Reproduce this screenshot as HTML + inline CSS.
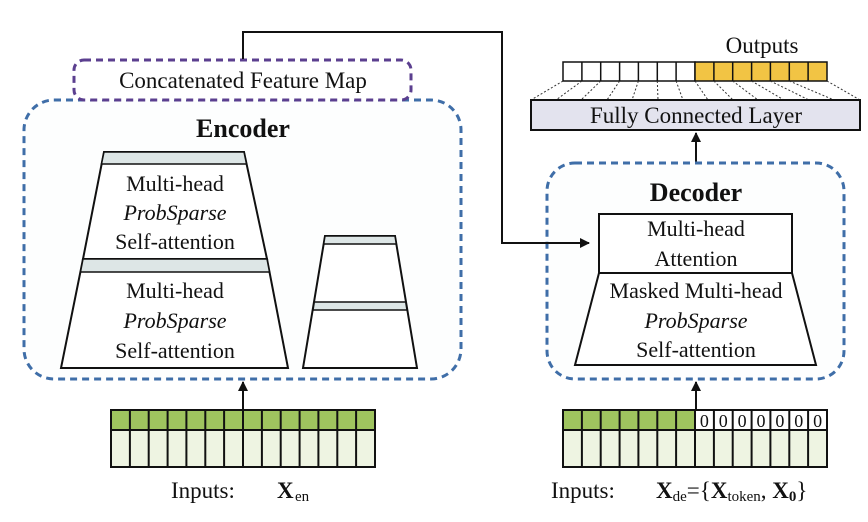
<!DOCTYPE html>
<html><head><meta charset="utf-8"><style>
html,body{margin:0;padding:0;background:#fff}
svg{display:block}
text,tspan{font-family:"Liberation Serif","Times New Roman","Noto Serif CJK SC","DejaVu Serif",serif;fill:#111}
</style></head><body>
<svg width="868" height="522" viewBox="0 0 868 522" xmlns="http://www.w3.org/2000/svg">
<defs>
<marker id="ah" markerWidth="10" markerHeight="10" refX="9" refY="5" orient="auto" markerUnits="userSpaceOnUse"><path d="M0,0 L10,5 L0,10 z" fill="#111"/></marker>
</defs>
<rect x="24" y="100" width="437" height="279" rx="30" fill="#fdfefe" stroke="#3f6ea8" stroke-width="3" stroke-dasharray="7,5"/>
<rect x="74" y="60" width="337" height="40" rx="10" fill="#fff" stroke="#5b3f8f" stroke-width="3" stroke-dasharray="7,5"/>
<text x="243" y="88" font-size="23" text-anchor="middle">Concatenated Feature Map</text>
<text x="243" y="137" font-size="26" font-weight="bold" text-anchor="middle">Encoder</text>
<polygon points="104,152 244,152 267,259 83,259" fill="#fff" stroke="#111" stroke-width="2"/>
<polygon points="104,152 244,152 246.5,164 101.5,164" fill="#dde6e6" stroke="#111" stroke-width="1.5"/>
<text x="175" y="191" font-size="22" text-anchor="middle">Multi-head</text>
<text x="175" y="220" font-size="22" font-style="italic" text-anchor="middle">ProbSparse</text>
<text x="175" y="249" font-size="22" text-anchor="middle">Self-attention</text>
<polygon points="83,259 267,259 288,368 61,368" fill="#fff" stroke="#111" stroke-width="2"/>
<polygon points="83,259 267,259 269.5,272 80.5,272" fill="#dde6e6" stroke="#111" stroke-width="1.5"/>
<text x="175" y="298" font-size="22" text-anchor="middle">Multi-head</text>
<text x="175" y="328" font-size="22" font-style="italic" text-anchor="middle">ProbSparse</text>
<text x="175" y="358" font-size="22" text-anchor="middle">Self-attention</text>
<polygon points="325,236 395,236 417,368 303,368" fill="#fff" stroke="#111" stroke-width="2"/>
<polygon points="325,236 395,236 396.3,244 323.7,244" fill="#dde6e6" stroke="#111" stroke-width="1.5"/>
<polygon points="314.3,302 405.7,302 407,310 313,310" fill="#dde6e6" stroke="#111" stroke-width="1.5"/>
<line x1="243" y1="410" x2="243" y2="382" stroke="#111" stroke-width="2" marker-end="url(#ah)"/>
<g stroke="#111" stroke-width="2">
<rect x="111" y="410" width="264" height="20" fill="#9fc45f"/>
<rect x="111" y="430" width="264" height="37" fill="#eef4e2"/>
<line x1="129.9" y1="410" x2="129.9" y2="467"/><line x1="148.7" y1="410" x2="148.7" y2="467"/><line x1="167.6" y1="410" x2="167.6" y2="467"/><line x1="186.4" y1="410" x2="186.4" y2="467"/><line x1="205.3" y1="410" x2="205.3" y2="467"/><line x1="224.1" y1="410" x2="224.1" y2="467"/><line x1="243" y1="410" x2="243" y2="467"/><line x1="261.9" y1="410" x2="261.9" y2="467"/><line x1="280.7" y1="410" x2="280.7" y2="467"/><line x1="299.6" y1="410" x2="299.6" y2="467"/><line x1="318.4" y1="410" x2="318.4" y2="467"/><line x1="337.3" y1="410" x2="337.3" y2="467"/><line x1="356.1" y1="410" x2="356.1" y2="467"/>
</g>
<text x="171" y="498" font-size="23">Inputs:</text>
<text x="277" y="498" font-size="23" font-weight="bold">X</text><text x="295" y="501" font-size="15">en</text>

<text x="762" y="53" font-size="23" text-anchor="middle">Outputs</text>
<g stroke="#111" stroke-width="1.5">
<rect x="563" y="62" width="132" height="19" fill="#fff"/>
<rect x="695" y="62" width="132" height="19" fill="#f2c444"/>
<line x1="581.9" y1="62" x2="581.9" y2="81"/><line x1="600.7" y1="62" x2="600.7" y2="81"/><line x1="619.6" y1="62" x2="619.6" y2="81"/><line x1="638.4" y1="62" x2="638.4" y2="81"/><line x1="657.3" y1="62" x2="657.3" y2="81"/><line x1="676.1" y1="62" x2="676.1" y2="81"/><line x1="713.9" y1="62" x2="713.9" y2="81"/><line x1="732.7" y1="62" x2="732.7" y2="81"/><line x1="751.6" y1="62" x2="751.6" y2="81"/><line x1="770.4" y1="62" x2="770.4" y2="81"/><line x1="789.3" y1="62" x2="789.3" y2="81"/><line x1="808.1" y1="62" x2="808.1" y2="81"/>
</g>
<g stroke="#333" stroke-width="1" stroke-dasharray="2,2">
<line x1="563" y1="81" x2="531" y2="100"/><line x1="581.9" y1="81" x2="556" y2="100"/><line x1="600.7" y1="81" x2="581" y2="100"/><line x1="619.6" y1="81" x2="607" y2="100"/><line x1="638.4" y1="81" x2="632" y2="100"/><line x1="657.3" y1="81" x2="658" y2="100"/><line x1="676.1" y1="81" x2="683" y2="100"/><line x1="695" y1="81" x2="708" y2="100"/><line x1="713.9" y1="81" x2="733" y2="100"/><line x1="732.7" y1="81" x2="758" y2="100"/><line x1="751.6" y1="81" x2="784" y2="100"/><line x1="770.4" y1="81" x2="809" y2="100"/><line x1="789.3" y1="81" x2="834" y2="100"/><line x1="827" y1="81" x2="860" y2="100"/>
</g>
<rect x="531" y="100" width="329" height="30" fill="#e3e3ee" stroke="#111" stroke-width="2"/>
<text x="696" y="123" font-size="23" text-anchor="middle">Fully Connected Layer</text>
<line x1="696" y1="163" x2="696" y2="133" stroke="#111" stroke-width="2" marker-end="url(#ah)"/>

<rect x="547" y="163" width="297" height="216" rx="28" fill="#fdfefe" stroke="#3f6ea8" stroke-width="3" stroke-dasharray="7,5"/>
<text x="696" y="201" font-size="26" font-weight="bold" text-anchor="middle">Decoder</text>
<rect x="599" y="214" width="193" height="59" fill="#fff" stroke="#111" stroke-width="2"/>
<text x="696" y="236" font-size="22" text-anchor="middle">Multi-head</text>
<text x="696" y="266" font-size="22" text-anchor="middle">Attention</text>
<polygon points="599,273 792,273 816,365 575,365" fill="#fff" stroke="#111" stroke-width="2"/>
<text x="696" y="298" font-size="22" text-anchor="middle">Masked Multi-head</text>
<text x="696" y="328" font-size="22" font-style="italic" text-anchor="middle">ProbSparse</text>
<text x="696" y="357" font-size="22" text-anchor="middle">Self-attention</text>
<line x1="696" y1="410" x2="696" y2="382" stroke="#111" stroke-width="2" marker-end="url(#ah)"/>
<g stroke="#111" stroke-width="2">
<rect x="563" y="410" width="132" height="20" fill="#9fc45f"/>
<rect x="695" y="410" width="132" height="20" fill="#fff"/>
<rect x="563" y="430" width="264" height="37" fill="#eef4e2"/>
<line x1="581.9" y1="410" x2="581.9" y2="467"/><line x1="600.7" y1="410" x2="600.7" y2="467"/><line x1="619.6" y1="410" x2="619.6" y2="467"/><line x1="638.4" y1="410" x2="638.4" y2="467"/><line x1="657.3" y1="410" x2="657.3" y2="467"/><line x1="676.1" y1="410" x2="676.1" y2="467"/><line x1="695" y1="410" x2="695" y2="467"/><line x1="713.9" y1="410" x2="713.9" y2="467"/><line x1="732.7" y1="410" x2="732.7" y2="467"/><line x1="751.6" y1="410" x2="751.6" y2="467"/><line x1="770.4" y1="410" x2="770.4" y2="467"/><line x1="789.3" y1="410" x2="789.3" y2="467"/><line x1="808.1" y1="410" x2="808.1" y2="467"/>
</g>
<g font-size="18" text-anchor="middle">
<text x="704.4" y="427">0</text><text x="723.3" y="427">0</text><text x="742.1" y="427">0</text><text x="761" y="427">0</text><text x="779.9" y="427">0</text><text x="798.7" y="427">0</text><text x="817.6" y="427">0</text>
</g>
<text x="551" y="498" font-size="23">Inputs:</text>
<text x="656" y="498" font-size="23"><tspan font-weight="bold">X</tspan><tspan font-size="15" dy="3">de</tspan><tspan dy="-3">={</tspan><tspan font-weight="bold">X</tspan><tspan font-size="15" dy="3">token</tspan><tspan dy="-3">, </tspan><tspan font-weight="bold">X</tspan><tspan font-size="15" font-weight="bold" dy="3">0</tspan><tspan dy="-3">}</tspan></text>

<polyline points="243,59 243,32 502,32 502,243 589,243" fill="none" stroke="#111" stroke-width="2" marker-end="url(#ah)"/>
</svg>
</body></html>
